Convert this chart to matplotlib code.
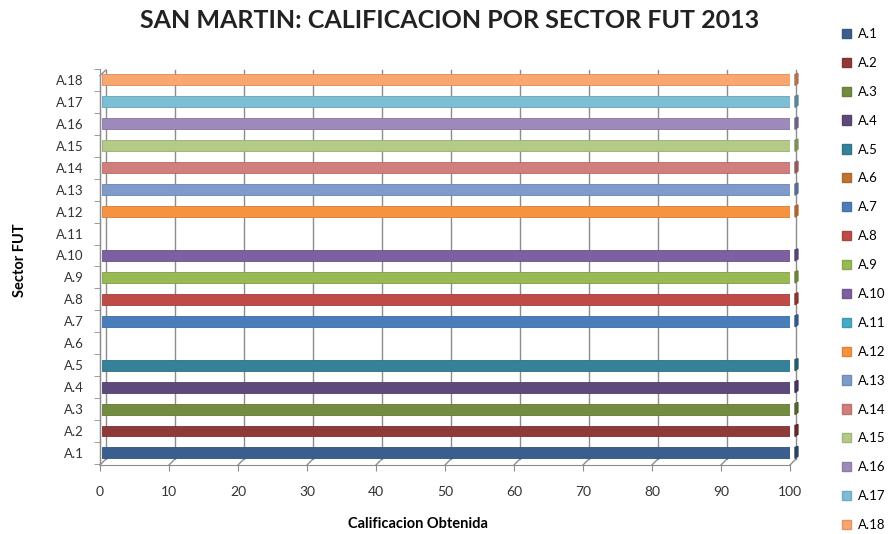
import matplotlib.pyplot as plt
from matplotlib.patches import Patch, Polygon

plt.rcParams['font.family'] = ['Lato', 'DejaVu Sans']

sectores = ["A.1", "A.2", "A.3", "A.4", "A.5", "A.6", "A.7", "A.8", "A.9",
            "A.10", "A.11", "A.12", "A.13", "A.14", "A.15", "A.16", "A.17", "A.18"]
calificacion = [100, 100, 100, 100, 100, 0, 100, 100, 100,
                100, 0, 100, 100, 100, 100, 100, 100, 100]
colores = ["#3A5F8F", "#8E3A38", "#738C40", "#5D4A7B", "#36819A", "#C07232",
           "#4A7EBB", "#BE4B48", "#98B954", "#7D60A0", "#46AAC5", "#F69240",
           "#7E9BCB", "#D07F7C", "#B3CB86", "#9E8ABA", "#7CBED4", "#F9A671"]
x_ticks = [0, 10, 20, 30, 40, 50, 60, 70, 80, 90, 100]


def oscurecer(c, f=0.75):
    c = c.lstrip('#')
    r, g, b = (int(c[i:i + 2], 16) / 255 for i in (0, 2, 4))
    return (r * f, g * f, b * f)


fig = plt.figure(figsize=(8.91, 5.34), dpi=100)
ax = fig.add_axes([100 / 891, 1 - 465 / 534, 690 / 891, 396 / 534])
ax.set_xlim(0, 100)
ax.set_ylim(-0.55, 17.45)

dx = 0.85   # desplazamiento 3D (en datos) hacia la pared del fondo
dy = 0.27

# pared del fondo: cuadricula
for t in x_ticks:
    ax.plot([t + dx, t + dx], [-0.55 + dy, 17.45], color="#8C8C8C", lw=1, zorder=1,
            clip_on=False)
    ax.plot([t, t + dx], [-0.55, -0.55 + dy], color="#8C8C8C", lw=1, zorder=1,
            clip_on=False)
ax.plot([0, 0], [-0.55, 17.2], color="#8C8C8C", lw=1, zorder=1, clip_on=False)
ax.plot([0, dx], [17.2, 17.45], color="#8C8C8C", lw=1, zorder=1, clip_on=False)

# barras con efecto 3D
for i, (v, c) in enumerate(zip(calificacion, colores)):
    if v == 0:
        continue
    h = 0.5
    ax.barh(i, v + dx * 0.5, left=0.3, height=h, color=c,
            edgecolor=oscurecer(c, 0.85), lw=0.6, zorder=3)
    ax.add_patch(Polygon([[v + 0.3 + dx * 0.5, i - h / 2], [v + 0.3 + dx, i - h / 2 + 0.1],
                          [v + 0.3 + dx, i + h / 2 + 0.05], [v + 0.3 + dx * 0.5, i + h / 2]],
                         closed=True, color=oscurecer(c, 0.7), zorder=4, clip_on=False))

for s in ["top", "right"]:
    ax.spines[s].set_visible(False)
for s in ["left", "bottom"]:
    ax.spines[s].set_color("#8C8C8C")

ax.set_yticks(range(len(sectores)))
ax.set_yticklabels(sectores, fontsize=9.5, color="#333333")
ax.set_yticks([i + 0.5 for i in range(-1, 18)], minor=True)
ax.tick_params(axis="y", which="major", length=0, pad=12)
ax.tick_params(axis="y", which="minor", length=4, color="#8C8C8C")
ax.set_xticks(x_ticks)
ax.set_xticklabels([str(t) for t in x_ticks], fontsize=10, color="#333333")
ax.tick_params(axis="x", length=4, color="#8C8C8C", pad=11)

fig.text(450 / 891, 1 - 20 / 534, "SAN MARTIN: CALIFICACION POR SECTOR FUT 2013",
         ha="center", va="center", fontsize=18, fontweight="bold", color="#222222")
fig.text(418 / 891, 1 - 524 / 534, "Calificacion Obtenida", ha="center", va="center",
         fontsize=10.5, fontweight="bold")
fig.text(20 / 891, 1 - 260 / 534, "Sector FUT", ha="center", va="center",
         rotation=90, fontsize=10.5, fontweight="bold")

handles = [Patch(facecolor=c, edgecolor=oscurecer(c, 0.9), label=s)
           for s, c in zip(sectores, colores)]
fig.legend(handles=handles, loc="upper left", bbox_to_anchor=(842 / 891, 1 - 28 / 534),
           frameon=False, fontsize=9.5, handlelength=0.7, handleheight=0.7,
           handletextpad=0.5, labelspacing=1.28, borderaxespad=0, borderpad=0)

fig.savefig("out.png", dpi=100)
